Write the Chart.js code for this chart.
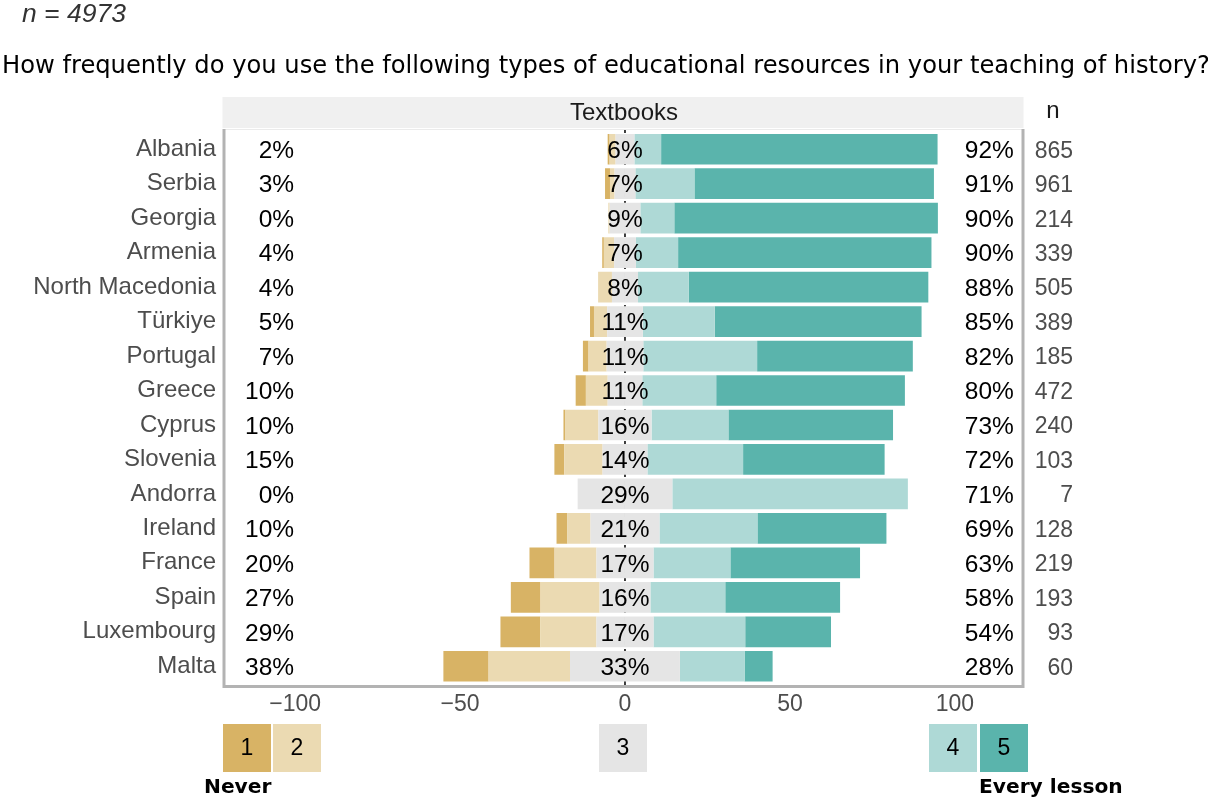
<!DOCTYPE html>
<html>
<head>
<meta charset="utf-8">
<script src="https://cdn.jsdelivr.net/npm/chart.js@4.4.1/dist/chart.umd.min.js"></script>
<style>
  body { margin: 0; background: #fff; }
  #wrap { width: 1208px; height: 800px; }
</style>
</head>
<body>
<div id="wrap"><canvas id="likert" width="1208" height="800"></canvas></div>
<script>
// countries, top to bottom
var countries = ['Albania', 'Serbia', 'Georgia', 'Armenia', 'North Macedonia', 'Türkiye', 'Portugal', 'Greece',
                 'Cyprus', 'Slovenia', 'Andorra', 'Ireland', 'France', 'Spain', 'Luxembourg', 'Malta'];

// share of answers per scale point (1 = never ... 5 = every lesson), in %
var never       = [0.6, 1.5, 0.0, 0.5, 0.0, 1.2, 1.7, 3.1, 0.6, 3.0, 0.0, 3.3, 7.6, 9.0, 12.1, 13.7];
var rarely      = [1.8, 1.4, 0.4, 3.1, 4.2, 4.0, 5.5, 6.6, 10.0, 11.6, 0.0, 7.0, 12.7, 17.9, 17.0, 24.7];
var neutral     = [5.7, 6.3, 9.3, 6.6, 7.9, 10.8, 11.1, 10.5, 16.1, 13.6, 28.7, 20.9, 17.3, 15.4, 17.3, 33.3];
var often       = [8.1, 17.9, 10.3, 12.8, 15.4, 21.8, 34.5, 22.4, 23.3, 29.0, 71.4, 29.7, 23.3, 22.7, 27.8, 19.6];
var everyLesson = [83.8, 72.6, 79.9, 76.8, 72.6, 62.7, 47.2, 57.2, 49.9, 42.9, 0.0, 39.1, 39.3, 34.8, 26.0, 8.5];

// printed labels
var leftPct  = [2, 3, 0, 4, 4, 5, 7, 10, 10, 15, 0, 10, 20, 27, 29, 38];
var midPct   = [6, 7, 9, 7, 8, 11, 11, 11, 16, 14, 29, 21, 17, 16, 17, 33];
var rightPct = [92, 91, 90, 90, 88, 85, 82, 80, 73, 72, 71, 69, 63, 58, 54, 28];
var nCounts  = [865, 961, 214, 339, 505, 389, 185, 472, 240, 103, 7, 128, 219, 193, 93, 60];

var tickValues = [-100, -50, 0, 50, 100];

var col1 = '#d8b365', col2 = '#ebdab2', col3 = '#e5e5e5', col4 = '#aed9d6', col5 = '#5ab4ac';
var sans = '"Liberation Sans", Arial, sans-serif';
var verd = '"DejaVu Sans", Verdana, sans-serif';

function neg(arr) { return arr.map(function (v) { return -v; }); }
function half(arr, sign) { return arr.map(function (v) { return sign * v / 2; }); }

var extras = {
  id: 'extras',
  beforeDatasetsDraw: function (chart) {
    var c = chart.ctx, a = chart.chartArea, x0 = chart.scales.x.getPixelForValue(0);
    c.save();
    c.strokeStyle = '#000';
    c.lineWidth = 1.5;
    c.setLineDash([4, 4]);
    c.beginPath();
    c.moveTo(x0, a.top - 3);
    c.lineTo(x0, a.bottom + 3);
    c.stroke();
    c.restore();
  },
  afterDatasetsDraw: function (chart) {
    var c = chart.ctx, a = chart.chartArea, xs = chart.scales.x, ys = chart.scales.y;
    c.save();
    // percentage labels
    c.font = '24.5px ' + sans;
    c.fillStyle = '#000';
    c.textBaseline = 'middle';
    countries.forEach(function (name, i) {
      var y = ys.getPixelForValue(i) + 2;
      c.textAlign = 'right';
      c.fillText(leftPct[i] + '%', xs.getPixelForValue(-100.3), y);
      c.textAlign = 'center';
      c.fillText(midPct[i] + '%', xs.getPixelForValue(0), y);
      c.textAlign = 'left';
      c.fillText(rightPct[i] + '%', xs.getPixelForValue(103), y);
    });
    // n column
    c.font = '23px ' + sans;
    c.fillStyle = '#4d4d4d';
    c.textAlign = 'right';
    countries.forEach(function (name, i) {
      c.fillText(String(nCounts[i]), 1073, ys.getPixelForValue(i) + 2);
    });
    // panel border
    var top = a.top - 3, bot = a.bottom + 3;
    c.strokeStyle = '#ebebeb';
    c.lineWidth = 1;
    c.beginPath();
    c.moveTo(a.left, top + 0.5);
    c.lineTo(a.right, top + 0.5);
    c.stroke();
    c.strokeStyle = '#b3b3b3';
    c.lineWidth = 3;
    c.beginPath();
    c.moveTo(a.left - 0.5, top);
    c.lineTo(a.left - 0.5, bot);
    c.lineTo(a.right - 0.5, bot);
    c.lineTo(a.right - 0.5, top);
    c.stroke();
    c.restore();
  },
  afterDraw: function (chart) {
    var c = chart.ctx, a = chart.chartArea;
    c.save();
    c.textBaseline = 'middle';
    // n = header
    c.font = 'italic 26.5px ' + sans;
    c.fillStyle = '#333';
    c.textAlign = 'left';
    c.fillText('n = 4973', 22, 15);
    // question
    c.font = '24.2px ' + verd;
    c.fillStyle = '#000';
    c.fillText('How frequently do you use the following types of educational resources in your teaching of history?', 2, 67);
    // strip
    c.fillStyle = '#f0f0f0';
    c.fillRect(a.left - 2, 97, a.right - a.left + 2, 31);
    c.font = '24px ' + sans;
    c.fillStyle = '#1a1a1a';
    c.textAlign = 'center';
    c.fillText('Textbooks', (a.left + a.right) / 2, 113);
    c.fillText('n', 1053, 111);
    // legend boxes
    var boxes = [
      { x: 223, c: col1, t: '1' }, { x: 273, c: col2, t: '2' }, { x: 599, c: col3, t: '3' },
      { x: 929, c: col4, t: '4' }, { x: 980, c: col5, t: '5' }
    ];
    boxes.forEach(function (b) {
      c.fillStyle = b.c;
      c.fillRect(b.x, 724, 48, 48);
      c.fillStyle = '#000';
      c.font = '23px ' + sans;
      c.fillText(b.t, b.x + 24, 749);
    });
    c.font = 'bold 20.2px ' + verd;
    c.textAlign = 'left';
    c.fillText('Never', 204, 788);
    c.fillText('Every lesson', 979, 788);
    c.restore();
  }
};

var ctx = document.getElementById('likert').getContext('2d');
var likert = new Chart(ctx, {
  type: 'bar',
  data: {
    labels: countries,
    datasets: [
      { label: '3', data: half(neutral, -1), backgroundColor: col3 },
      { label: '2', data: neg(rarely), backgroundColor: col2 },
      { label: '1', data: neg(never), backgroundColor: col1 },
      { label: '3', data: half(neutral, 1), backgroundColor: col3 },
      { label: '4', data: often, backgroundColor: col4 },
      { label: '5', data: everyLesson, backgroundColor: col5 }
    ]
  },
  options: {
    indexAxis: 'y',
    responsive: false,
    animation: false,
    layout: { padding: { left: 0, right: 184.5, top: 132, bottom: 86.5 } },
    datasets: { bar: { categoryPercentage: 1, barPercentage: 0.89, borderWidth: 0 } },
    plugins: { legend: { display: false }, tooltip: { enabled: false } },
    scales: {
      x: {
        stacked: true,
        min: -121.4,
        max: 120.8,
        afterFit: function (s) { s.height = 30; },
        afterBuildTicks: function (s) { s.ticks = tickValues.map(function (v) { return { value: v }; }); },
        grid: { display: false, drawTicks: false },
        border: { display: false },
        ticks: {
          padding: 7,
          color: '#4d4d4d',
          font: { family: sans, size: 23 },
          callback: function (v) { return v < 0 ? '\u2212' + Math.abs(v) : String(v); }
        }
      },
      y: {
        stacked: true,
        afterFit: function (s) { s.width = 224.5; },
        grid: { display: false, drawTicks: false },
        border: { display: false },
        ticks: { padding: 8.5, color: '#4d4d4d', font: { family: sans, size: 24 } }
      }
    }
  },
  plugins: [extras]
});
</script>
</body>
</html>
